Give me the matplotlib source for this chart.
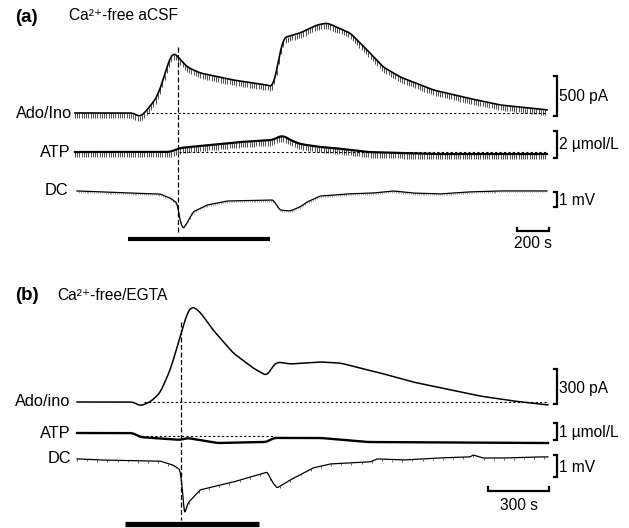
import numpy as np
import matplotlib
matplotlib.use("Agg")
import matplotlib.pyplot as plt

plt.rcParams['font.family'] = ['Liberation Sans', 'DejaVu Sans']

W, H = 629, 528

# ---------------- panel (a): Ca2+-free aCSF ----------------
# time in s, Ado/Ino in pA
a_ado_t = [0, 362, 406, 450, 512, 550, 581, 612, 644, 700, 781, 988, 1200, 1238,
           1300, 1406, 1512, 1575, 1719, 1825, 1925, 2031, 2238, 2450, 2656, 2950]
a_ado_v = [0, 0, -50, 38, 200, 412, 625, 762, 700, 575, 500, 412, 350, 325,
           938, 1000, 1100, 1125, 1000, 788, 575, 450, 288, 188, 100, 38]
# ATP in umol/L
a_atp_t = [0, 594, 656, 1031, 1238, 1294, 1344, 1406, 1531, 1612, 1825, 2238, 2950]
a_atp_v = [0, 0, 0.30, 0.74, 0.89, 1.26, 0.89, 0.59, 0.37, 0.30, 0.0, -0.15, -0.15]
# DC in mV
a_dc_t = [12, 362, 531, 594, 638, 656, 675, 700, 738, 825, 950, 1238, 1281, 1344,
          1406, 1450, 1531, 1700, 1862, 1988, 2112, 2281, 2450, 2638, 2950]
a_dc_v = [0.07, -0.07, -0.13, -0.4, -0.73, -1.87, -2.47, -2.07, -1.33, -0.87, -0.6,
          -0.53, -1.2, -1.27, -1.0, -0.67, -0.27, -0.13, -0.07, 0.07, -0.07, -0.13,
          0.0, 0.07, 0.07]
a_stim = [331, 1219]
a_dash_t = 644

# ---------------- panel (b): Ca2+-free/EGTA ----------------
b_ado_t = [0, 276, 310, 359, 408, 458, 507, 541, 566, 605, 669, 768, 866, 935, 959,
           984, 1048, 1196, 1294, 1491, 1653, 1820, 1983, 2145, 2317]
b_ado_v = [0, 0, -34, 0, 77, 274, 557, 763, 823, 771, 617, 420, 291, 223, 300,
           343, 326, 343, 334, 249, 171, 111, 51, 9, -26]
b_atp_t = [0, 276, 310, 507, 541, 689, 935, 964, 1196, 1427, 2317]
b_atp_v = [0, 0, -0.24, -0.41, -0.29, -0.59, -0.53, -0.29, -0.29, -0.53, -0.59]
b_dc_t = [0, 113, 408, 472, 507, 522, 526, 546, 605, 768, 935, 964, 984, 1048, 1161,
          1245, 1328, 1442, 1476, 1604, 1771, 1934, 1948, 1998, 2096, 2263, 2317]
b_dc_v = [0.05, 0, -0.05, -0.23, -0.45, -1.68, -2.5, -1.95, -1.36, -1.0, -0.55,
          -1.05, -1.27, -0.91, -0.36, -0.18, -0.14, -0.09, 0.05, 0, 0.09, 0.14, 0.23,
          0.09, 0.09, 0.14, 0.14]
b_stim = [236, 895]
b_dash_t = 512

fig = plt.figure(figsize=(W / 100, H / 100), dpi=100)


def trace_ax(name, x0, spp, y0, upp):
    # overlay axes: x0/y0 = pixel of trace origin, spp = s per px, upp = unit per px
    ax = fig.add_axes([0, 0, 1, 1], label=name)
    ax.set_xlim(-x0 * spp, (W - x0) * spp)
    ax.set_ylim((y0 - H) * upp, y0 * upp)
    ax.axis('off')
    ax.patch.set_alpha(0)
    return ax


def smooth_line(ax, t, v, win, **kw):
    # just rounds the corners of the polyline for drawing
    tt = np.linspace(t[0], t[-1], 2000)
    vv = np.interp(tt, t, v)
    n = max(1, int(win / (tt[1] - tt[0])))
    pad = np.concatenate([np.full(n, vv[0]), vv, np.full(n, vv[-1])])
    vv = np.convolve(pad, np.ones(n) / n, mode='same')[n:-n]
    ax.plot(tt, vv, **kw)
    return tt, vv


def comb(ax, tt, vv, step, length, color='#555555', lw=0.75):
    tc = np.arange(tt[0], tt[-1], step)
    vc = np.interp(tc, tt, vv)
    ax.vlines(tc, vc - length, vc, color=color, lw=lw, zorder=1)


def bracket(ax, t, lo, hi, tick, text, ty):
    ax.plot([t - tick, t, t, t - tick], [lo, lo, hi, hi], color='k', lw=1.6,
            solid_joinstyle='miter')
    ax.text(t + tick * 0.5, ty, text, ha='left', va='center', fontsize=11.2)


def timebar(ax, t1, t2, v, h, text, ty):
    ax.plot([t1, t1, t2, t2], [v + h, v, v, v + h], color='k', lw=1.6,
            solid_joinstyle='miter')
    ax.text((t1 + t2) / 2, ty, text, ha='center', va='center', fontsize=11.2)


# ---- (a) ----
spp = 6.25
ax1 = trace_ax('a_ado', 75, spp, 113, 12.5)
ax1.plot([450, 2950], [0, 0], color='k', lw=0.8, ls=(0, (2, 2)))
tt, vv = smooth_line(ax1, a_ado_t, a_ado_v, 45, color='k', lw=1.2, zorder=3)
comb(ax1, tt, vv, 14, 65)
ax1.text(-20, 0, 'Ado/Ino', ha='right', va='center', fontsize=11.8)
ax1.plot([a_dash_t, a_dash_t], [825, -1500], color='k', lw=0.9, ls=(0, (4, 2)))
bracket(ax1, 3012, -40, 460, 20, '500 pA', 210)

ax2 = trace_ax('a_atp', 75, spp, 152, 2 / 27)
ax2.plot([650, 2950], [0, 0], color='k', lw=0.8, ls=(0, (2, 2)))
tt, vv = smooth_line(ax2, a_atp_t, a_atp_v, 60, color='k', lw=1.6, zorder=3)
comb(ax2, tt, vv, 14, 0.4)
ax2.text(-25, 0, 'ATP', ha='right', va='center', fontsize=11.8)
bracket(ax2, 3012, -0.44, 1.55, 20, '2 \u00b5mol/L', 0.55)

ax3 = trace_ax('a_dc', 75, spp, 192, 1 / 15)
tt, vv = smooth_line(ax3, a_dc_t, a_dc_v, 20, color='k', lw=0.9, zorder=3)
comb(ax3, tt, vv, 12, 0.1, color='#777777', lw=0.5)
ax3.text(-45, 0.07, 'DC', ha='right', va='center', fontsize=11.8)
bracket(ax3, 3012, 0, -1.0, 20, '1 mV', -0.55)
ax3.plot(a_stim, [-3.13, -3.13], color='k', lw=3.0, solid_capstyle='butt')
timebar(ax3, 2762, 2962, -2.6, 0.2, '200 s', -3.45)

fig.text(15 / W, 1 - 18 / H, '(a)', fontsize=13.5, fontweight='bold', va='center')
fig.text(69 / W, 1 - 16 / H, 'Ca\u00b2\u207a-free aCSF', fontsize=11.2, va='center')

# ---- (b) ----
spp = 4.92
bx1 = trace_ax('b_ado', 77, spp, 402, 300 / 35)
bx1.plot([330, 2317], [0, 0], color='k', lw=0.8, ls=(0, (2, 2)))
smooth_line(bx1, b_ado_t, b_ado_v, 35, color='k', lw=1.1)
bx1.text(-30, 0, 'Ado/ino', ha='right', va='center', fontsize=11.8)
bx1.plot([b_dash_t, b_dash_t], [686, -1011], color='k', lw=0.9, ls=(0, (4, 2)))
bracket(bx1, 2362, -17, 283, 15, '300 pA', 120)

bx2 = trace_ax('b_atp', 77, spp, 433, 1 / 17)
bx2.plot([295, 964], [-0.18, -0.18], color='k', lw=0.8, ls=(0, (2, 2)))
smooth_line(bx2, b_atp_t, b_atp_v, 40, color='k', lw=1.7)
bx2.text(-30, 0, 'ATP', ha='right', va='center', fontsize=11.8)
bracket(bx2, 2362, -0.41, 0.59, 15, '1 \u00b5mol/L', 0.0)

bx3 = trace_ax('b_dc', 77, spp, 460, 1 / 22)
tt, vv = smooth_line(bx3, b_dc_t, b_dc_v, 12, color='k', lw=0.9, zorder=3)
comb(bx3, tt, vv, 50, 0.09, color='#444444', lw=0.6)
bx3.text(-30, 0.05, 'DC', ha='right', va='center', fontsize=11.8)
bracket(bx3, 2362, 0.23, -0.77, 15, '1 mV', -0.36)
bx3.plot(b_stim, [-2.93, -2.93], color='k', lw=3.8, solid_capstyle='butt')
timebar(bx3, 2022, 2322, -1.41, 0.2, '300 s', -2.05)

fig.text(15 / W, 1 - 295 / H, '(b)', fontsize=13.5, fontweight='bold', va='center')
fig.text(57 / W, 1 - 295 / H, 'Ca\u00b2\u207a-free/EGTA', fontsize=11.2, va='center')

fig.savefig('out.png', dpi=100)
